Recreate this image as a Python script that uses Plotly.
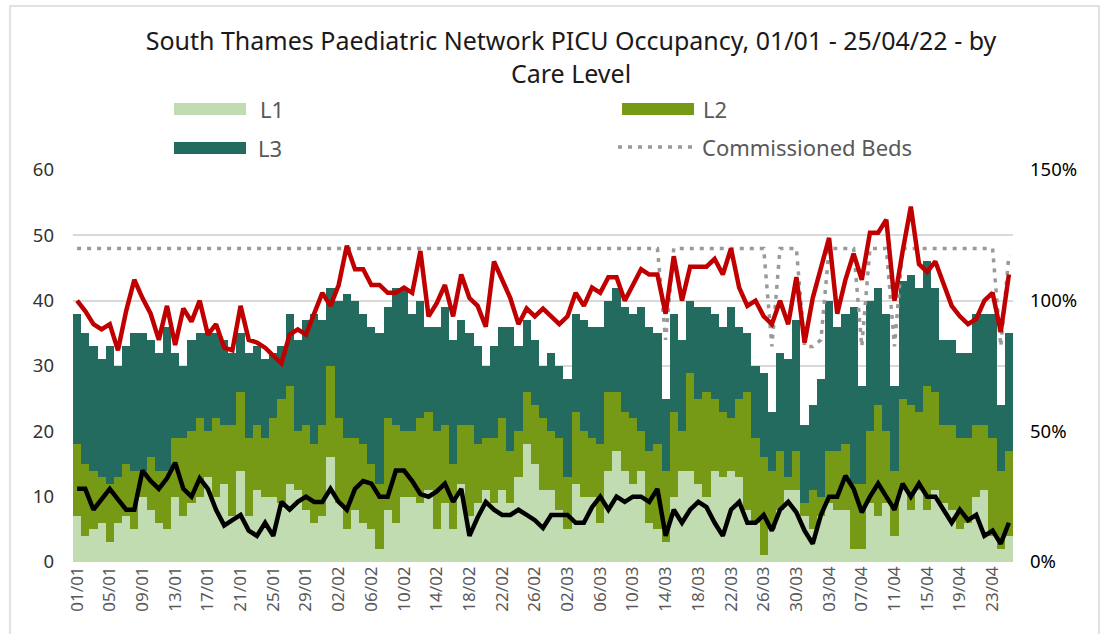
import plotly.graph_objects as go
import pandas as pd

# ---- data ----
dates = [d.strftime("%d/%m") for d in pd.date_range("2022-01-01", "2022-04-25")]

L1 = [7, 4, 5, 6, 3, 6, 7, 5, 10, 8, 6, 5, 10, 7, 9, 10, 13, 10,
      12, 7, 14, 7, 11, 10, 10, 9, 12, 11, 8, 6, 7, 16, 9, 5, 8, 6, 5, 2,
      8, 6, 10, 10, 9, 11, 5, 9, 5, 12, 7, 9, 11, 9, 11, 9, 13, 18, 15, 11,
      11, 8, 5, 12, 10, 10, 6, 14, 17, 14, 12, 14, 6, 5, 3, 10, 14, 14, 12,
      10, 14, 13, 14, 13, 8, 6, 1, 5, 8, 11, 11, 7, 5, 7, 9, 8, 8, 2, 2,
      9, 7, 9, 4, 11, 8, 11, 8, 11, 9, 8, 5, 6, 10, 11, 4, 2, 4]
L2 = [11, 11, 9, 7, 9, 7, 8, 9, 4, 8, 8, 9, 9, 12, 11, 12, 7, 12,
      9, 14, 12, 12, 10, 9, 12, 16, 15, 9, 13, 12, 14, 14, 13, 14, 11, 12, 10, 10,
      14, 15, 10, 10, 13, 12, 15, 12, 10, 9, 14, 9, 8, 10, 11, 8, 7, 8, 9, 11,
      9, 11, 8, 11, 10, 9, 12, 12, 9, 9, 10, 6, 11, 13, 11, 13, 6, 15, 13,
      16, 11, 10, 8, 12, 18, 13, 15, 9, 9, 2, 6, 2, 6, 3, 8, 9, 10, 10, 10,
      11, 17, 11, 10, 14, 16, 12, 19, 15, 12, 13, 14, 13, 11, 10, 15, 12, 13]
L3 = [20, 20, 19, 18, 21, 17, 18, 21, 21, 18, 18, 22, 13, 11, 14, 13, 15, 13,
      13, 11, 9, 13, 12, 12, 10, 8, 11, 14, 16, 20, 16, 12, 18, 22, 21, 20, 21, 23,
      17, 21, 22, 18, 18, 13, 16, 18, 19, 16, 14, 15, 11, 14, 14, 19, 13, 11, 10, 8,
      12, 11, 15, 15, 17, 17, 18, 14, 16, 16, 16, 19, 19, 17, 11, 15, 14, 11, 14,
      13, 13, 13, 17, 11, 9, 11, 13, 9, 15, 18, 20, 12, 13, 18, 23, 19, 20, 27, 15,
      20, 18, 18, 13, 18, 20, 19, 19, 16, 13, 13, 13, 13, 17, 17, 19, 10, 18]
commissioned = [48] * 72 + [34] + [48] * 12 + [33] + [48] * 3 + [33, 33, 34] + [48] * 4 + [33] + [48] * 3 + [33] + [48] * 12 + [33, 47]
occupancy_pct = [100, 96, 91, 89, 91, 81, 96, 108, 101, 95, 85, 98, 83, 97, 92, 100, 87, 91,
                 82, 81, 98, 85, 84, 82, 79, 76, 87, 89, 87, 95, 103, 98, 106, 121, 112, 112, 106, 106,
                 103, 103, 105, 103, 119, 94, 99, 106, 94, 110, 101, 98, 90, 115, 108, 101, 91, 97, 94, 97,
                 94, 91, 94, 103, 98, 105, 103, 109, 109, 100, 106, 112, 110, 110, 95, 117, 100, 113, 113,
                 113, 116, 110, 120, 105, 98, 100, 94, 91, 100, 91, 109, 84, 101, 112, 124, 95, 108, 118, 108,
                 126, 126, 131, 100, 119, 136, 114, 111, 115, 106, 98, 94, 91, 93, 100, 103, 88, 110]
second_pct = [28, 28, 20, 24, 28, 24, 20, 20, 35, 31, 28, 32, 38, 28, 25, 32, 28, 20,
              14, 16, 18, 12, 10, 15, 10, 23, 20, 23, 25, 23, 23, 28, 23, 20, 28, 31, 30, 25,
              25, 35, 35, 31, 26, 25, 27, 30, 23, 28, 10, 17, 23, 20, 18, 18, 20, 18, 16, 13,
              18, 18, 18, 15, 15, 21, 25, 20, 25, 23, 25, 25, 23, 28, 10, 20, 15, 20, 23,
              21, 15, 10, 20, 23, 15, 15, 18, 12, 20, 23, 19, 12, 7, 18, 25, 25, 33, 28, 19,
              25, 30, 25, 20, 30, 25, 30, 25, 25, 20, 15, 20, 16, 18, 10, 12, 7, 15]
left_ticks = [0, 10, 20, 30, 40, 50, 60]
right_ticks = [0, 50, 100, 150]
right_labels = ["0%", "50%", "100%", "150%"]

# ---- style ----
C1, C2, C3 = "#c0dcb0", "#769a16", "#226b5e"
GREY_TXT = "#595959"
FONT = "Noto Sans"
W, H = 1104, 634
PL, PR, PT, PB = 73, 1013, 170, 562


def px(x):
    return (x - PL) / (PR - PL)


def py(y):
    return (PB - y) / (PB - PT)


fig = go.Figure()
for name, vals, col in [("L1", L1, C1), ("L2", L2, C2), ("L3", L3, C3)]:
    fig.add_trace(go.Bar(x=dates, y=vals, name=name, marker=dict(color=col, line=dict(width=0))))
fig.add_trace(go.Scatter(x=dates, y=commissioned, name="Commissioned Beds", mode="lines",
                         line=dict(color="#999999", width=3.5, dash="4px,6px")))
fig.add_trace(go.Scatter(x=dates, y=occupancy_pct, yaxis="y2", mode="lines", name="Occupancy",
                         line=dict(color="#c00000", width=4.5)))
fig.add_trace(go.Scatter(x=dates, y=second_pct, yaxis="y2", mode="lines", name="Other",
                         line=dict(color="#000000", width=4.5)))

shapes = [
    dict(type="rect", xref="paper", yref="paper", x0=px(10), x1=px(1099), y0=py(6), y1=py(700),
         line=dict(color="#d9d9d9", width=1.5), fillcolor="rgba(0,0,0,0)", layer="below"),
    dict(type="rect", xref="paper", yref="paper", x0=px(174), x1=px(246), y0=py(115), y1=py(103),
         line=dict(width=0), fillcolor=C1),
    dict(type="rect", xref="paper", yref="paper", x0=px(622), x1=px(694), y0=py(115), y1=py(103),
         line=dict(width=0), fillcolor=C2),
    dict(type="rect", xref="paper", yref="paper", x0=px(174), x1=px(246), y0=py(154), y1=py(142),
         line=dict(width=0), fillcolor=C3),
    dict(type="line", xref="paper", yref="paper", x0=px(618), x1=px(697), y0=py(147), y1=py(147),
         line=dict(color="#999999", width=3.5, dash="4px,6px")),
]
annotations = []
for txt, x, y in [("L1", 258, 109), ("L2", 701, 109), ("L3", 256, 148), ("Commissioned Beds", 700, 147)]:
    annotations.append(dict(text=txt, xref="paper", yref="paper", x=px(x), y=py(y), xanchor="left",
                            yanchor="middle", showarrow=False, font=dict(family=FONT, size=22, color=GREY_TXT)))

fig.update_layout(
    width=W, height=H, autosize=False,
    margin=dict(l=PL, r=W - PR, t=PT, b=H - PB, pad=0),
    paper_bgcolor="white", plot_bgcolor="white",
    barmode="stack", bargap=0,
    showlegend=False,
    title=dict(text="South Thames Paediatric Network PICU Occupancy, 01/01 - 25/04/22 - by<br>Care Level",
               x=571 / W, xanchor="center", y=1 - 50 / H, yanchor="top", yref="container",
               font=dict(family=FONT, size=25, color="#1a1a1a")),
    xaxis=dict(type="category", tickmode="array", tickvals=dates[::4], ticktext=dates[::4],
               tickangle=-90, tickfont=dict(family=FONT, size=17, color=GREY_TXT),
               showgrid=False, showline=False, ticks="", zeroline=False),
    yaxis=dict(range=[0, 60], tickvals=left_ticks, gridcolor="#d9d9d9", gridwidth=1.5,
               tickfont=dict(family=FONT, size=18.5, color="#333333"), zeroline=False,
               showline=False, ticks="", ticklabelstandoff=18),
    yaxis2=dict(range=[0, 150], tickmode="array", tickvals=right_ticks, ticktext=right_labels,
                overlaying="y", side="right",
                showgrid=False, zeroline=False, showline=False, ticks="",
                tickfont=dict(family=FONT, size=18.5, color="#000000"), ticklabelstandoff=16),
    shapes=shapes, annotations=annotations,
)

fig.write_html("out.html", config={"displayModeBar": False},
               post_script="document.body.style.margin='0';document.body.style.padding='0';")
